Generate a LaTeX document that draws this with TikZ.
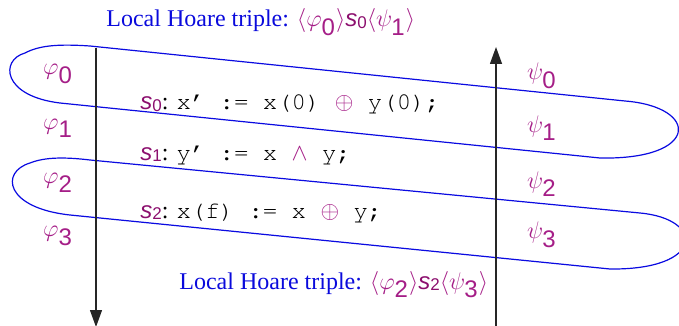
\documentclass[tikz,border=0pt]{standalone}
\usepackage[T1]{fontenc}
\usepackage{fontspec}
\setmainfont{Liberation Serif}
\setsansfont{Liberation Sans}
\setmonofont{Liberation Mono}
\usetikzlibrary{arrows.meta}
\definecolor{loopblue}{RGB}{10,10,225}
\definecolor{titleblue}{RGB}{10,10,220}
\definecolor{pur}{RGB}{165,30,135}
\definecolor{spur}{RGB}{140,15,110}
\newcommand\sv[1]{\textcolor{spur}{\textsf{\itshape s\/}\raisebox{-0.8pt}{\sffamily\upshape\fontsize{8.5}{8.5}\selectfont #1}}}
\newcommand\gp[1]{\textcolor{pur}{$\varphi_{\textsf{#1}}$}}
\newcommand\gs[1]{\textcolor{pur}{$\psi_{\textsf{#1}}$}}
\newcommand\mop[1]{\textcolor{pur}{$#1$}}
\newcommand\cw[1]{{\fontencoding{T1}\fontfamily{pcr}\fontseries{m}\fontshape{n}\selectfont #1}}
\tikzset{
  txt/.style={font=\fontsize{12}{14}\selectfont, inner sep=0pt},
  title/.style={txt, text=titleblue},
  lbl/.style={txt},
  code/.style={txt, anchor=base west},
  loopline/.style={draw=loopblue, line width=0.6pt},
  axis/.style={draw=black!85, line width=0.65pt, -{Triangle[length=8.5pt,width=6pt]}}
}
\begin{document}
\begin{tikzpicture}[x=0.5pt,y=-0.5pt]
\useasboundingbox (0,0) rectangle (679,326);
% loops
\draw[loopline] (25,53) .. controls (40,45) and (60,44) .. (90,46) -- (625,101)
  .. controls (700,107) and (700,160) .. (600,158) -- (60,103)
  .. controls (2,96) and (0,60) .. (25,53);
\draw[loopline] (30,163) .. controls (45,157) and (65,157) .. (90,160) -- (640,213)
  .. controls (705,219) and (705,270) .. (610,269) -- (70,215)
  .. controls (5,208) and (0,172) .. (30,163);
% axes
\coordinate (dtop) at (96,48);
\coordinate (dbot) at (96,327);
\coordinate (ubot) at (496,330);
\coordinate (utop) at (496,47);
\draw[axis] (dtop) -- (dbot);
\draw[axis] (ubot) -- (utop);
% titles
\node[title, anchor=base west] (t1) at (106,27) {Local Hoare triple: \textcolor{pur}{$\langle\varphi_{\textsf{0}}\rangle$}\sv{0}\textcolor{pur}{$\langle\psi_{\textsf{1}}\rangle$}};
\node[title, anchor=base west] (t2) at (179,289) {Local Hoare triple: \textcolor{pur}{$\langle\varphi_{\textsf{2}}\rangle$}\sv{2}\textcolor{pur}{$\langle\psi_{\textsf{3}}\rangle$}};
% labels
\node[lbl] (p0) at (58,74) {\gp{0}};
\node[lbl] (p1) at (58,128) {\gp{1}};
\node[lbl] (p2) at (58,183) {\gp{2}};
\node[lbl] (p3) at (58,236) {\gp{3}};
\node[lbl] (q0) at (542,76) {\gs{0}};
\node[lbl] (q1) at (542,128) {\gs{1}};
\node[lbl] (q2) at (542,184) {\gs{2}};
\node[lbl] (q3) at (542,235) {\gs{3}};
% code
\node[code] (c0) at (140,110) {\sv{0}: \cw{x' := x(0) }\mop{\oplus}\cw{ y(0);}};
\node[code] (c1) at (140,160) {\sv{1}: \cw{y' := x }\mop{\wedge}\cw{ y;}};
\node[code] (c2) at (140,218) {\sv{2}: \cw{x(f) := x }\mop{\oplus}\cw{ y;}};
\end{tikzpicture}
\end{document}
